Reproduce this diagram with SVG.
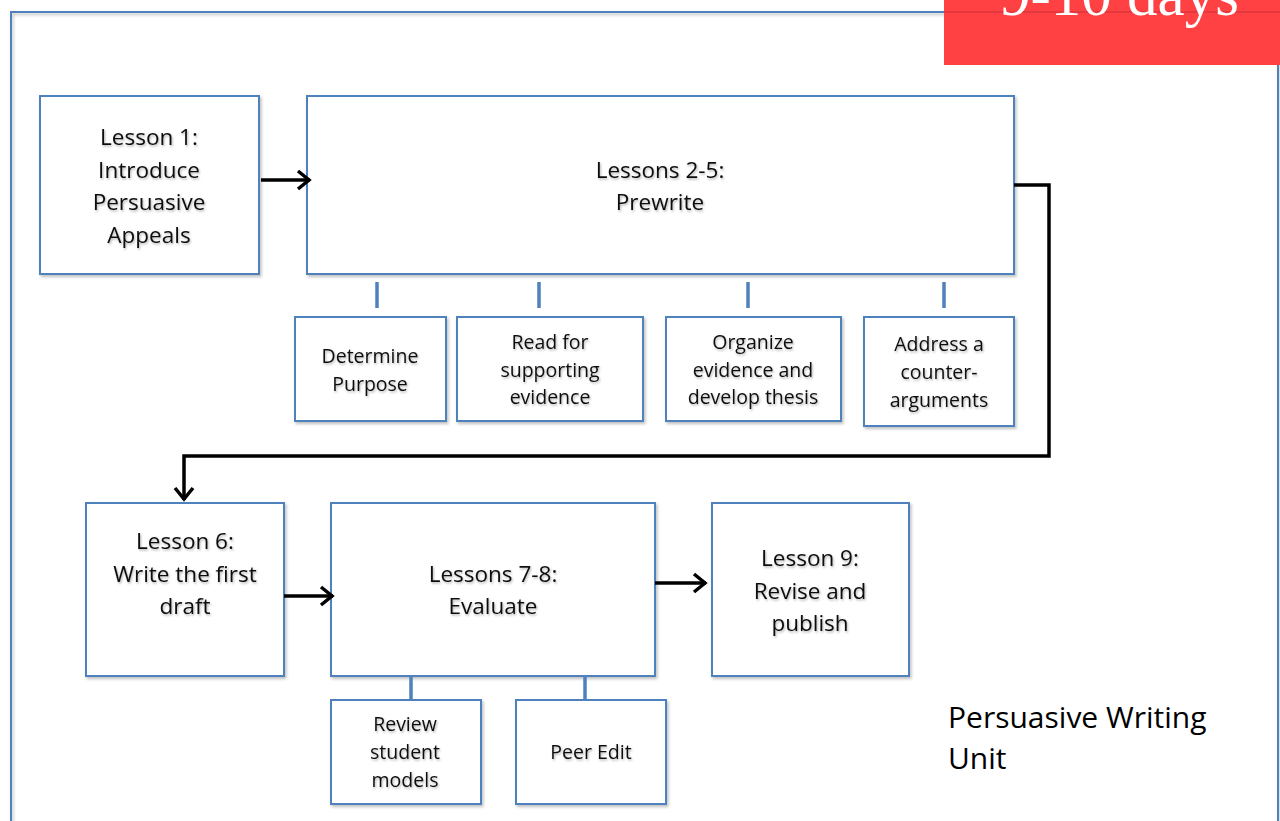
<svg xmlns="http://www.w3.org/2000/svg" width="1280" height="821" viewBox="0 0 1280 821">
<defs>
<style>
.box{fill:#fff;stroke:#4f81bd;stroke-width:2;filter:url(#bs)}
.tick{stroke:#4f81bd;stroke-width:3.5}
.t{font-family:"Open Sans","Noto Sans",sans-serif;font-size:22.5px;fill:#111;text-anchor:middle;filter:url(#ts)}
.s{font-family:"Open Sans","Noto Sans",sans-serif;font-size:19.5px;fill:#111;text-anchor:middle;filter:url(#ts)}
.conn{fill:none;stroke:#000;stroke-width:3.5;stroke-linejoin:miter}
</style>
<filter id="bs" x="-5%" y="-5%" width="115%" height="115%"><feDropShadow dx="1.5" dy="2" stdDeviation="1.5" flood-color="#000" flood-opacity="0.25"/></filter>
<filter id="ts" x="-10%" y="-20%" width="120%" height="150%"><feDropShadow dx="1" dy="1.5" stdDeviation="1.2" flood-color="#000" flood-opacity="0.3"/></filter>
<marker id="ah" markerUnits="userSpaceOnUse" markerWidth="24" markerHeight="24" refX="20" refY="12" orient="auto">
<path d="M8,3 L19,12 L8,21" fill="none" stroke="#000" stroke-width="3.5"/>
</marker>
</defs>
<rect width="1280" height="821" fill="#fff"/>
<rect x="11" y="12" width="1267" height="840" fill="none" stroke="#4f81bd" stroke-width="2" filter="url(#bs)"/>
<g id="banner">
<rect x="944" y="0" width="336" height="65" fill="#ff4143"/>
<line x1="944" y1="12" x2="1280" y2="12" stroke="#c8303a" stroke-width="1.5" opacity="0.7"/>
<text x="1000" y="15" font-family="Liberation Serif,serif" font-size="61" fill="#fff">9-10 days</text>
</g>
<g id="lesson1"><rect class="box" x="40" y="96" width="219" height="178"/>
<text class="t"><tspan x="149" y="145">Lesson 1:</tspan><tspan x="149" y="178">Introduce</tspan><tspan x="149" y="210">Persuasive</tspan><tspan x="149" y="243">Appeals</tspan></text></g>
<g id="lessons2-5"><rect class="box" x="307" y="96" width="707" height="178"/>
<text class="t"><tspan x="660" y="178">Lessons 2-5:</tspan><tspan x="660" y="210">Prewrite</tspan></text></g>
<g id="purpose"><rect class="box" x="295" y="317" width="151" height="104"/>
<text class="s"><tspan x="370" y="363">Determine</tspan><tspan x="370" y="391">Purpose</tspan></text></g>
<g id="read"><rect class="box" x="457" y="317" width="186" height="104"/>
<text class="s"><tspan x="550" y="349">Read for</tspan><tspan x="550" y="377">supporting</tspan><tspan x="550" y="404">evidence</tspan></text></g>
<g id="organize"><rect class="box" x="666" y="317" width="175" height="104"/>
<text class="s"><tspan x="753" y="349">Organize</tspan><tspan x="753" y="377">evidence and</tspan><tspan x="753" y="404">develop thesis</tspan></text></g>
<g id="address"><rect class="box" x="864" y="317" width="150" height="109"/>
<text class="s"><tspan x="939" y="351">Address a</tspan><tspan x="939" y="379">counter-</tspan><tspan x="939" y="407">arguments</tspan></text></g>
<g id="lesson6"><rect class="box" x="86" y="503" width="198" height="173"/>
<text class="t"><tspan x="185" y="549">Lesson 6:</tspan><tspan x="185" y="582">Write the first</tspan><tspan x="185" y="614">draft</tspan></text></g>
<g id="lessons7-8"><rect class="box" x="331" y="503" width="324" height="173"/>
<text class="t"><tspan x="493" y="582">Lessons 7-8:</tspan><tspan x="493" y="614">Evaluate</tspan></text></g>
<g id="lesson9"><rect class="box" x="712" y="503" width="197" height="173"/>
<text class="t"><tspan x="810" y="566">Lesson 9:</tspan><tspan x="810" y="599">Revise and</tspan><tspan x="810" y="631">publish</tspan></text></g>
<g id="review"><rect class="box" x="331" y="700" width="150" height="104"/>
<text class="s"><tspan x="405" y="731">Review</tspan><tspan x="405" y="759">student</tspan><tspan x="405" y="787">models</tspan></text></g>
<g id="peeredit"><rect class="box" x="516" y="700" width="150" height="104"/>
<text class="s"><tspan x="591" y="759">Peer Edit</tspan></text></g>
<g id="title"><text font-family="Open Sans,Noto Sans,sans-serif" font-size="30" fill="#000"><tspan x="948" y="728">Persuasive Writing</tspan><tspan x="948" y="769">Unit</tspan></text></g>
<g id="connectors">
<line class="tick" x1="377" y1="282" x2="377" y2="308"/>
<line class="tick" x1="539" y1="282" x2="539" y2="308"/>
<line class="tick" x1="748" y1="282" x2="748" y2="308"/>
<line class="tick" x1="944" y1="282" x2="944" y2="308"/>
<line class="tick" x1="411" y1="676" x2="411" y2="700"/>
<line class="tick" x1="585" y1="676" x2="585" y2="700"/>
<path class="conn" d="M261,180 L310,180" marker-end="url(#ah)"/>
<path class="conn" d="M1014,185 L1049,185 L1049,456 L184,456 L184,500" marker-end="url(#ah)"/>
<path class="conn" d="M284,596 L333,596" marker-end="url(#ah)"/>
<path class="conn" d="M655,583 L706,583" marker-end="url(#ah)"/>
</g>
</svg>
